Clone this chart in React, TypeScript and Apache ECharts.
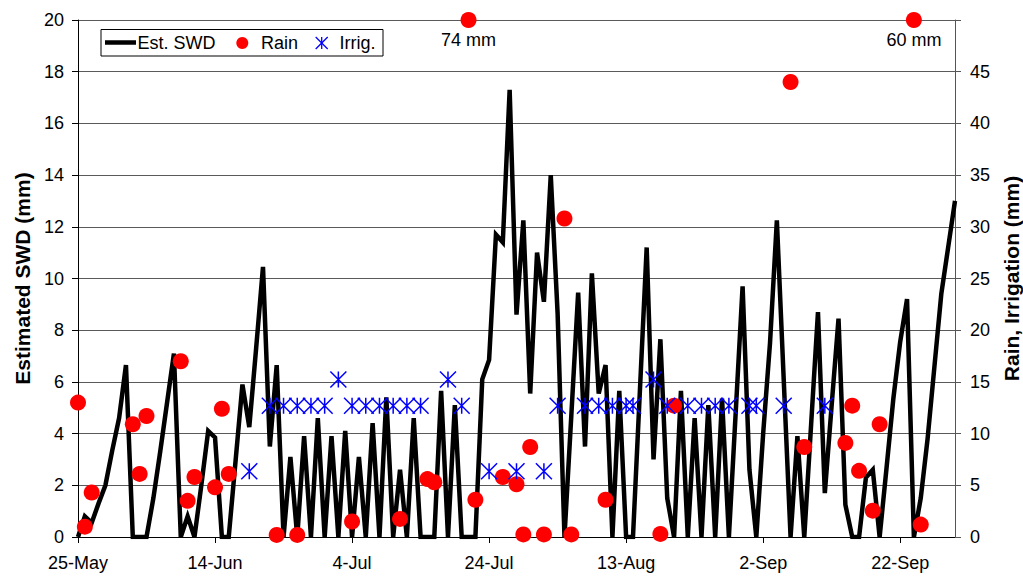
import React, { useEffect, useRef } from "react";
import * as echarts from "echarts";

// x axis: day index from 25-May (0) to 30-Sep (128)
const xTickLabels = ["25-May", "14-Jun", "4-Jul", "24-Jul", "13-Aug", "2-Sep", "22-Sep"];
const xTickValues = [0, 20, 40, 60, 80, 100, 120];

// Estimated soil water deficit (mm), one value per day
const swd = [
  0, 0.8, 0.55, 1.3, 2.0, 3.35, 4.6, 6.65, 0, 0,
  0, 1.5, 3.3, 5.2, 7.1, 0, 0.8, 0, 2.0, 4.1,
  3.85, 0, 0, 2.95, 5.9, 4.25, 7.3, 10.45, 3.5, 6.65,
  0, 3.1, 0, 3.9, 0, 4.6, 0, 3.9, 0, 4.1,
  0, 3.1, 0, 4.4, 0, 5.4, 0, 2.6, 0, 4.6,
  0, 0, 0, 5.65, 0, 5.1, 0, 0, 0, 6.1,
  6.85, 11.7, 11.4, 17.3, 8.6, 12.25, 5.55, 11.0, 9.1, 14.0,
  8.65, 0, 4.7, 9.45, 3.5, 10.2, 5.55, 6.65, 0, 5.65,
  0, 0, 5.6, 11.2, 3.0, 7.65, 1.5, 0, 5.65, 0,
  4.6, 0, 5.1, 0, 5.35, 0, 4.85, 9.7, 2.6, 0,
  4.0, 7.5, 12.25, 6.1, 0, 3.9, 0, 4.35, 8.7, 1.7,
  5.1, 8.45, 1.25, 0, 0, 2.3, 2.6, 0, 2.65, 5.35,
  7.55, 9.2, 0, 1.5, 3.8, 6.6, 9.4, 11.2, 13.0,
];

// Rain events (day index, mm)
const rainDays = [0, 1, 2, 8, 9, 10, 15, 16, 17, 20, 21, 22, 29, 32, 40, 47, 51, 52, 57, 58, 62, 64, 65, 66, 68, 71, 72, 77, 85, 87, 104, 106, 112, 113, 114, 116, 117, 122, 123];
const rainMm = [13.0, 1.0, 4.3, 10.9, 6.1, 11.7, 17.0, 3.5, 5.8, 4.8, 12.4, 6.1, 0.2, 0.2, 1.5, 1.75, 5.6, 5.3, 74, 3.6, 5.8, 5.1, 0.25, 8.7, 0.25, 30.8, 0.25, 3.6, 0.3, 12.7, 44, 8.7, 9.1, 12.7, 6.4, 2.55, 10.9, 60, 1.2];

// Irrigation events (day index, mm)
const irrigDays = [25, 28, 30, 32, 34, 36, 38, 40, 42, 44, 46, 48, 50, 54, 56, 60, 64, 68, 70, 74, 76, 78, 80, 81, 84, 86, 89, 91, 93, 95, 98, 99, 103, 109];
const irrigMm = [6.35, 12.7, 12.7, 12.7, 12.7, 12.7, 15.24, 12.7, 12.7, 12.7, 12.7, 12.7, 12.7, 15.24, 12.7, 6.35, 6.35, 6.35, 12.7, 12.7, 12.7, 12.7, 12.7, 12.7, 15.24, 12.7, 12.7, 12.7, 12.7, 12.7, 12.7, 12.7, 12.7, 12.7];

const RAIN_AXIS_MAX = 50;
const FONT = '"Liberation Sans", Arial, sans-serif';
const STAR = "path://M0,0L16,16M16,0L0,16M8,0L8,16";

export default function App() {
  const ref = useRef<HTMLDivElement>(null);

  useEffect(() => {
    if (!ref.current) return;
    const chart = echarts.init(ref.current, null, { renderer: "svg" });

    const swdData = swd.map((v, i) => [i, v]);
    const rainData = rainDays.map((d, i) => {
      const v = rainMm[i];
      if (v > RAIN_AXIS_MAX) {
        return {
          value: [d, RAIN_AXIS_MAX],
          label: {
            show: true,
            position: "bottom",
            distance: 3,
            formatter: `${v} mm`,
            color: "#000",
            fontSize: 18,
            fontFamily: FONT,
          },
        };
      }
      return { value: [d, v] };
    });
    const irrigData = irrigDays.map((d, i) => [d, irrigMm[i]]);

    chart.setOption({
      animation: false,
      backgroundColor: "#ffffff",
      grid: { left: 78, right: 68, top: 20, bottom: 39, containLabel: false, outerBoundsMode: "none" },
      xAxis: {
        type: "value",
        min: 0,
        max: 128,
        interval: 20,
        axisLine: { show: true, onZero: false, lineStyle: { color: "#000", width: 1 } },
        axisTick: { show: true, inside: false, length: 6, lineStyle: { color: "#000" }, customValues: xTickValues },
        splitLine: { show: false },
        axisLabel: {
          margin: 17,
          color: "#000",
          fontSize: 18,
          fontFamily: FONT,
          customValues: xTickValues,
          formatter: (v: number) => {
            const k = Math.round(v / 20);
            return Math.abs(v - k * 20) < 1e-6 && xTickLabels[k] ? xTickLabels[k] : "";
          },
        },
      },
      yAxis: [
        {
          type: "value",
          min: 0,
          max: 20,
          interval: 2,
          position: "left",
          name: "Estimated SWD (mm)",
          nameLocation: "middle",
          nameRotate: 90,
          nameGap: 45,
          nameTextStyle: { fontSize: 21, fontWeight: "bold", color: "#000", fontFamily: FONT },
          axisLine: { show: true, lineStyle: { color: "#000", width: 1 } },
          axisTick: { show: true, inside: false, length: 6, lineStyle: { color: "#000" } },
          splitLine: { show: true, lineStyle: { color: "#5a5a5a", width: 1 } },
          axisLabel: { margin: 14, color: "#000", fontSize: 18, fontFamily: FONT },
        },
        {
          type: "value",
          min: 0,
          max: RAIN_AXIS_MAX,
          interval: 5,
          position: "right",
          name: "Rain, Irrigation (mm)",
          nameLocation: "middle",
          nameRotate: 90,
          nameGap: 46,
          nameTextStyle: { fontSize: 21, fontWeight: "bold", color: "#000", fontFamily: FONT },
          axisLine: { show: true, lineStyle: { color: "#555", width: 1 } },
          axisTick: { show: true, inside: false, length: 6, lineStyle: { color: "#555" } },
          splitLine: { show: false },
          axisLabel: {
            margin: 15,
            color: "#000",
            fontSize: 18,
            fontFamily: FONT,
            formatter: (v: number) => (v >= RAIN_AXIS_MAX ? "" : String(v)),
          },
        },
      ],
      series: [
        {
          name: "Est. SWD",
          type: "line",
          yAxisIndex: 0,
          data: swdData,
          symbol: "none",
          lineStyle: { color: "#000", width: 4.5, join: "miter" },
          z: 2,
        },
        {
          name: "Rain",
          type: "scatter",
          yAxisIndex: 1,
          data: rainData,
          symbol: "circle",
          symbolSize: 16,
          itemStyle: { color: "#ff0000", opacity: 1 },
          clip: false,
          z: 3,
        },
        {
          name: "Irrig.",
          type: "scatter",
          yAxisIndex: 1,
          data: irrigData,
          symbol: STAR,
          symbolSize: 16,
          itemStyle: { color: "rgba(0,0,0,0)", borderColor: "#0000ff", borderWidth: 1.5, opacity: 1 },
          z: 4,
        },
      ],
      graphic: [
        {
          type: "group",
          z: 100,
          children: [
            {
              type: "rect",
              shape: { x: 101, y: 29.5, width: 282, height: 26.5 },
              style: { fill: "#fff", stroke: "#000", lineWidth: 1 },
            },
            {
              type: "line",
              shape: { x1: 105, y1: 42.5, x2: 136, y2: 42.5 },
              style: { stroke: "#000", lineWidth: 4.5 },
            },
            {
              type: "text",
              x: 137.5,
              y: 43,
              style: { text: "Est. SWD", fontSize: 18, fontFamily: FONT, fill: "#000", verticalAlign: "middle", textVerticalAlign: "middle" },
            },
            {
              type: "circle",
              shape: { cx: 242.3, cy: 43, r: 6 },
              style: { fill: "#ff0000" },
            },
            {
              type: "text",
              x: 261,
              y: 43,
              style: { text: "Rain", fontSize: 18, fontFamily: FONT, fill: "#000", verticalAlign: "middle", textVerticalAlign: "middle" },
            },
            { type: "line", shape: { x1: 315.7, y1: 37, x2: 327.7, y2: 49 }, style: { stroke: "#0000ff", lineWidth: 1.3 } },
            { type: "line", shape: { x1: 327.7, y1: 37, x2: 315.7, y2: 49 }, style: { stroke: "#0000ff", lineWidth: 1.3 } },
            { type: "line", shape: { x1: 321.7, y1: 37, x2: 321.7, y2: 49 }, style: { stroke: "#0000ff", lineWidth: 1.3 } },
            {
              type: "text",
              x: 339.5,
              y: 43,
              style: { text: "Irrig.", fontSize: 18, fontFamily: FONT, fill: "#000", verticalAlign: "middle", textVerticalAlign: "middle" },
            },
          ],
        },
      ],
    });

    return () => chart.dispose();
  }, []);

  return (
    <div
      ref={ref}
      style={{ position: "absolute", left: 0, top: 0, width: 1023, height: 576, background: "#fff" }}
    />
  );
}
